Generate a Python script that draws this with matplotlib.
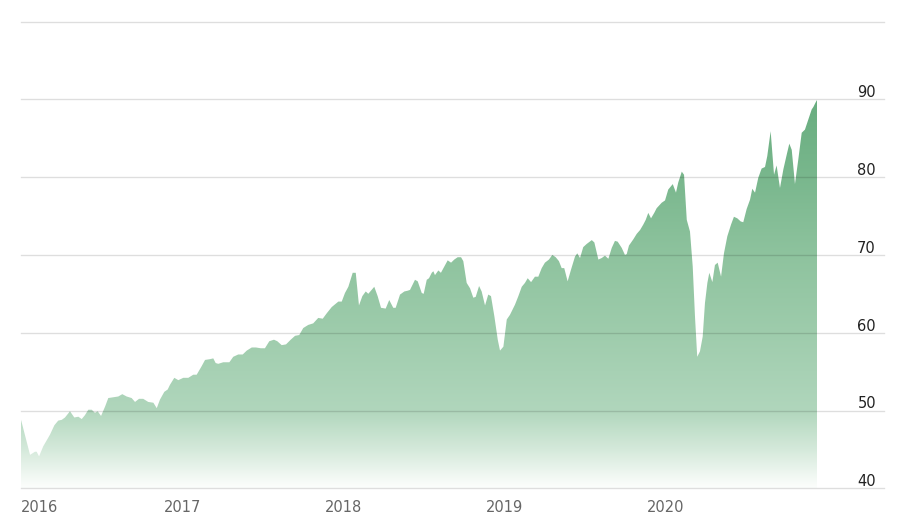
import numpy as np
import matplotlib
matplotlib.use("Agg")
import matplotlib.pyplot as plt
from matplotlib import transforms

# ---- data (decimal years, index value) ----
years = [2016.112, 2016.168, 2016.199, 2016.209, 2016.224, 2016.250, 2016.292, 2016.319, 2016.343, 2016.365,
         2016.385, 2016.416, 2016.443, 2016.468, 2016.489, 2016.509, 2016.530, 2016.551, 2016.571, 2016.588,
         2016.609, 2016.634, 2016.654, 2016.685, 2016.716, 2016.741, 2016.768, 2016.799, 2016.820, 2016.845,
         2016.871, 2016.902, 2016.934, 2016.955, 2016.975, 2017.002, 2017.023, 2017.037, 2017.064, 2017.089,
         2017.120, 2017.151, 2017.182, 2017.203, 2017.234, 2017.255, 2017.286, 2017.306, 2017.321, 2017.337,
         2017.368, 2017.406, 2017.430, 2017.461, 2017.489, 2017.514, 2017.545, 2017.571, 2017.601, 2017.627,
         2017.654, 2017.683, 2017.704, 2017.731, 2017.758, 2017.787, 2017.814, 2017.840, 2017.865, 2017.896,
         2017.927, 2017.958, 2017.986, 2018.011, 2018.042, 2018.083, 2018.104, 2018.124, 2018.145, 2018.172,
         2018.191, 2018.211, 2018.232, 2018.253, 2018.269, 2018.306, 2018.327, 2018.348, 2018.377, 2018.399,
         2018.424, 2018.439, 2018.466, 2018.493, 2018.514, 2018.528, 2018.559, 2018.576, 2018.601, 2018.613,
         2018.632, 2018.646, 2018.663, 2018.673, 2018.683, 2018.704, 2018.720, 2018.741, 2018.762, 2018.783,
         2018.803, 2018.824, 2018.845, 2018.859, 2018.880, 2018.901, 2018.921, 2018.936, 2018.957, 2018.973,
         2018.994, 2019.014, 2019.031, 2019.052, 2019.073, 2019.087, 2019.108, 2019.129, 2019.149, 2019.180,
         2019.201, 2019.222, 2019.242, 2019.259, 2019.280, 2019.304, 2019.325, 2019.346, 2019.366, 2019.391,
         2019.412, 2019.433, 2019.453, 2019.470, 2019.486, 2019.507, 2019.528, 2019.553, 2019.567, 2019.584,
         2019.604, 2019.625, 2019.657, 2019.673, 2019.698, 2019.719, 2019.739, 2019.760, 2019.781, 2019.801,
         2019.818, 2019.843, 2019.863, 2019.874, 2019.888, 2019.915, 2019.936, 2019.957, 2019.977, 2019.992,
         2020.008, 2020.025, 2020.045, 2020.060, 2020.091, 2020.112, 2020.132, 2020.160, 2020.180, 2020.194,
         2020.216, 2020.230, 2020.247, 2020.267, 2020.284, 2020.298, 2020.312, 2020.329, 2020.346, 2020.360,
         2020.375, 2020.387, 2020.406, 2020.422, 2020.439, 2020.460, 2020.478, 2020.499, 2020.522, 2020.540,
         2020.561, 2020.582, 2020.598, 2020.619, 2020.640, 2020.654, 2020.671, 2020.691, 2020.712, 2020.733,
         2020.747, 2020.768, 2020.789, 2020.805, 2020.826, 2020.847, 2020.868, 2020.884, 2020.899, 2020.919,
         2020.940, 2020.961, 2020.981, 2021.002, 2021.023, 2021.033, 2021.050, 2021.056]
values = [48.8, 44.3, 44.7, 44.7, 44.1, 45.4, 46.9, 48.1, 48.7, 48.8,
          49.1, 49.9, 49.1, 49.2, 48.9, 49.4, 50.1, 50.1, 49.7, 49.9,
          49.3, 50.5, 51.6, 51.7, 51.8, 52.1, 51.8, 51.6, 51.1, 51.5,
          51.5, 51.1, 51.0, 50.3, 51.4, 52.4, 52.7, 53.3, 54.2, 53.9,
          54.2, 54.2, 54.6, 54.6, 55.7, 56.5, 56.6, 56.7, 56.1, 56.0,
          56.2, 56.2, 56.9, 57.2, 57.2, 57.7, 58.1, 58.1, 58.0, 58.0,
          58.9, 59.1, 58.9, 58.4, 58.5, 59.1, 59.6, 59.7, 60.6, 61.0,
          61.2, 61.9, 61.8, 62.5, 63.3, 64.0, 64.0, 65.1, 65.9, 67.7,
          67.7, 63.5, 64.7, 65.3, 65.0, 65.9, 64.7, 63.2, 63.1, 64.2,
          63.2, 63.2, 64.9, 65.3, 65.4, 65.5, 66.8, 66.6, 65.1, 65.0,
          66.8, 67.0, 67.7, 67.9, 67.4, 68.0, 67.7, 68.5, 69.3, 69.0,
          69.4, 69.7, 69.7, 69.2, 66.4, 65.7, 64.5, 64.6, 66.0, 65.3,
          63.5, 64.9, 64.7, 62.1, 59.1, 57.7, 58.2, 61.7, 62.3, 63.6,
          64.7, 65.9, 66.4, 67.0, 66.5, 67.2, 67.2, 68.3, 69.0, 69.4,
          70.0, 69.7, 69.2, 68.3, 68.3, 66.6, 68.1, 69.8, 70.2, 69.6,
          71.0, 71.4, 71.9, 71.6, 69.4, 69.6, 69.9, 69.5, 70.9, 71.8,
          71.7, 70.9, 70.0, 70.1, 71.2, 72.0, 72.7, 73.2, 73.9, 74.5,
          75.4, 74.7, 75.4, 76.0, 76.7, 77.0, 78.4, 79.1, 78.0, 79.3,
          80.7, 80.3, 74.5, 73.0, 68.5, 62.1, 56.9, 57.6, 59.5, 63.8,
          66.4, 67.7, 66.5, 68.7, 69.0, 67.2, 70.2, 72.4, 73.9, 74.9,
          74.7, 74.3, 74.2, 75.9, 77.1, 78.5, 78.0, 79.9, 81.1, 81.3,
          82.7, 85.9, 80.3, 81.5, 78.6, 81.0, 82.9, 84.3, 83.5, 79.1,
          82.3, 85.7, 86.1, 87.4, 88.7, 89.0, 89.7, 89.9]

x_tick_pos = [2016.112, 2017.0, 2018.0, 2019.0, 2020.0]
x_tick_labels = ["2016", "2017", "2018", "2019", "2020"]
y_ticks = [40, 50, 60, 70, 80, 90]
y_grid = [40, 50, 60, 70, 80, 90, 100]

# gradient stops (value -> rgb)
grad_v = [40.0, 41.0, 45.0, 50.0, 60.0, 70.0, 80.0, 90.0]
grad_c = [(252, 254, 252), (245, 250, 246), (212, 233, 218), (176, 214, 188),
          (158, 204, 172), (142, 195, 158), (121, 183, 141), (104, 173, 127)]

plt.rcParams['font.family'] = ['DejaVu Sans']

fig = plt.figure(figsize=(9, 5.26), dpi=100)
ax = fig.add_axes([21 / 900, 37.7 / 526, 863 / 900, (488.3 - 21.5) / 526])
x0 = 2016 + 18 / 161
x1 = 2016 + 881 / 161
ax.set_xlim(x0, x1)
ax.set_ylim(40, 100)

# gradient fill clipped to area
poly = ax.fill_between(years, values, 40, color='none', linewidth=0)
rows = np.linspace(40, 100, 600)
gv = np.array(grad_v)
gc = np.array(grad_c) / 255.0
img = np.zeros((len(rows), 2, 3))
for k in range(3):
    col = np.interp(rows, gv, gc[:, k])
    img[:, :, k] = col[:, None]
im = ax.imshow(img, origin='lower', aspect='auto',
               extent=[min(years), max(years), 40, 100], interpolation='bilinear', zorder=1)
path = poly.get_paths()[0]
im.set_clip_path(path, transform=ax.transData)
ax.set_xlim(x0, x1)
ax.set_ylim(40, 100)

for g in y_grid:
    ax.axhline(g, color=(0, 0, 0), alpha=0.13, linewidth=1.0, zorder=3, clip_on=False)

for s in ax.spines.values():
    s.set_visible(False)
ax.set_xticks([])
ax.set_yticks([])

# y labels on right
for v in y_ticks:
    tr = transforms.blended_transform_factory(ax.transAxes, ax.transData)
    tr = tr + transforms.ScaledTranslation(0, 2 / 100, fig.dpi_scale_trans)
    ax.text((876 - 21) / 863, v, str(v), transform=tr, ha='right', va='baseline',
            fontsize=10.5, color='#222222')

# x labels
for p, lab in zip(x_tick_pos, x_tick_labels):
    tr = transforms.blended_transform_factory(ax.transData, ax.transAxes)
    tr = tr + transforms.ScaledTranslation(0, -24 / 100, fig.dpi_scale_trans)
    ax.text(p, 0, lab, transform=tr, ha='left', va='baseline',
            fontsize=10.5, color='#666666')

fig.savefig('out.png', dpi=100)
